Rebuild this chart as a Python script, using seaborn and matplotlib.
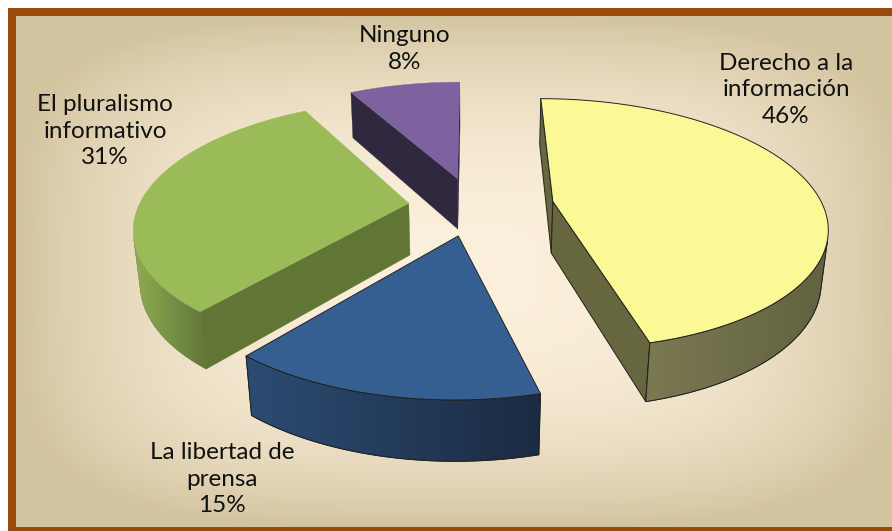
import numpy as np
import matplotlib.pyplot as plt
import matplotlib.patches as mpatches
import seaborn as sns

# chart data
labels = ["Derecho a la\ninformación", "La libertad de\nprensa", "El pluralismo\ninformativo", "Ninguno"]
shares = [46, 15, 31, 8]

# styling
top_colors = ["#FAF996", "#365F91", "#9BBB59", "#7E62A0"]
side_left = ["#7A7952", "#2C4C73", "#8EAC51", "#322A42"]
side_right = ["#626240", "#1B2B42", "#62763A", "#2E253D"]
radial_colors = ["#66663F", "#1F3453", "#617534", "#30283F"]
outlined = [True, True, False, False]
explode = [0.30, 0.24, 0.24, 0.24]
label_xy = [(786, 90), (222, 479), (105, 131), (405, 49)]
border = "#9A4A0B"

sns.set_theme(style="white")
plt.rcParams["font.family"] = ["Lato", "DejaVu Sans"]

W, H = 892, 531
fig = plt.figure(figsize=(W / 100, H / 100), dpi=100)
ax = fig.add_axes([0, 0, 1, 1])
ax.set_xlim(0, W)
ax.set_ylim(H, 0)
ax.axis("off")

# background: light centre fading to tan at the edges
gx = np.linspace(-1, 1, 400)
gy = np.linspace(-1, 1, 240)
XX, YY = np.meshgrid(gx, gy)
t = np.clip((np.abs(XX) ** 4 + np.abs(YY) ** 4) ** 0.25, 0, 1) ** 2.4
c_in = np.array([0.985, 0.94, 0.86])
c_out = np.array([0.83, 0.77, 0.63])
bg = c_in[None, None, :] * (1 - t[..., None]) + c_out[None, None, :] * t[..., None]
ax.imshow(bg, extent=[16, 905, 527, 16], aspect="auto", zorder=0, interpolation="bilinear")
# frame: top, left and bottom bars (the right side is cut off in the original)
for xy, w_, h_ in (((8, 8), 900, 8), ((8, 8), 8, 530), ((8, 527), 900, 8)):
    ax.add_patch(mpatches.Rectangle(xy, w_, h_, fc=border, ec="none", zorder=1))

# simple perspective projection of a flat disc of radius 1
elev = np.radians(27)
D = 5.0
S = 270
cx, cy = 473, 206
depth = 0.22
cam = np.array([0.0, D * np.cos(elev), D * np.sin(elev)])  # X, Z, Hgt


def project(X, Z, Hh):
    X, Z = np.asarray(X, float), np.asarray(Z, float)
    w = Z * np.cos(elev) + Hh * np.sin(elev)
    f = D / (D - w)
    return cx + S * f * X, cy + S * f * (Z * np.sin(elev) - Hh * np.cos(elev))


def poly(xs, ys, fc, ec, z):
    p = mpatches.Polygon(np.column_stack([xs, ys]), closed=True, fc=fc,
                         ec=ec if ec else fc, lw=0.7 if ec else 0.3, zorder=z,
                         joinstyle="round")
    ax.add_patch(p)
    return p


fracs = np.array(shares) / np.sum(shares)
starts = np.concatenate([[0], np.cumsum(fracs)[:-1]]) * 360
ends = np.cumsum(fracs) * 360

slices = []
for i in range(len(shares)):
    mid = np.radians((starts[i] + ends[i]) / 2)
    ox, oz = explode[i] * np.sin(mid), -explode[i] * np.cos(mid)
    key = oz - 0.5 * np.cos(mid)
    slices.append((key, i, ox, oz))
slices.sort()

for order, (key, i, ox, oz) in enumerate(slices):
    z = 3 + order * 3
    ec = "#222222" if outlined[i] else None
    th = np.radians(np.linspace(starts[i], ends[i], 120))
    rx, rz = ox + np.sin(th), oz - np.cos(th)

    # radial walls
    for ang, sgn in ((np.radians(starts[i]), -1), (np.radians(ends[i]), 1)):
        n = sgn * np.array([np.cos(ang), np.sin(ang)])
        if n[0] * (0 - ox) + n[1] * (cam[1] - oz) > 0:
            ex, ez = ox + np.sin(ang), oz - np.cos(ang)
            x1, y1 = project([ox, ex], [oz, ez], 0)
            x2, y2 = project([ex, ox], [ez, oz], -depth)
            poly(np.r_[x1, x2], np.r_[y1, y2], radial_colors[i], ec, z)

    # outer curved wall (visible part only)
    vis = np.sin(th) * (0 - rx) + (-np.cos(th)) * (cam[1] - rz) > 0
    if vis.any():
        idx = np.where(vis)[0]
        a, b = idx[0], idx[-1] + 1
        xt, yt = project(rx[a:b], rz[a:b], 0)
        xb, yb = project(rx[a:b][::-1], rz[a:b][::-1], -depth)
        p = poly(np.r_[xt, xb], np.r_[yt, yb], side_right[i], ec, z)
        grad = sns.blend_palette([side_left[i], side_right[i]], n_colors=64)
        img = ax.imshow(np.array(grad)[None, :, :],
                        extent=[min(xt.min(), xb.min()), max(xt.max(), xb.max()),
                                max(yt.max(), yb.max()), min(yt.min(), yb.min())],
                        aspect="auto", zorder=z + 0.5, interpolation="bilinear")
        img.set_clip_path(p)
        if ec:
            poly(np.r_[xt, xb], np.r_[yt, yb], "none", ec, z + 0.6).set_facecolor("none")

    # top face
    xa, ya = project(np.r_[ox, rx], np.r_[oz, rz], 0)
    poly(xa, ya, top_colors[i], ec, z + 1)

for i in range(len(shares)):
    ax.text(label_xy[i][0], label_xy[i][1], f"{labels[i]}\n{shares[i]}%",
            ha="center", va="center", fontsize=17.5, color="#111111",
            linespacing=1.32, zorder=20)

ax.set_xlim(0, W)
ax.set_ylim(H, 0)

fig.savefig("out.png", dpi=100, facecolor="white")
